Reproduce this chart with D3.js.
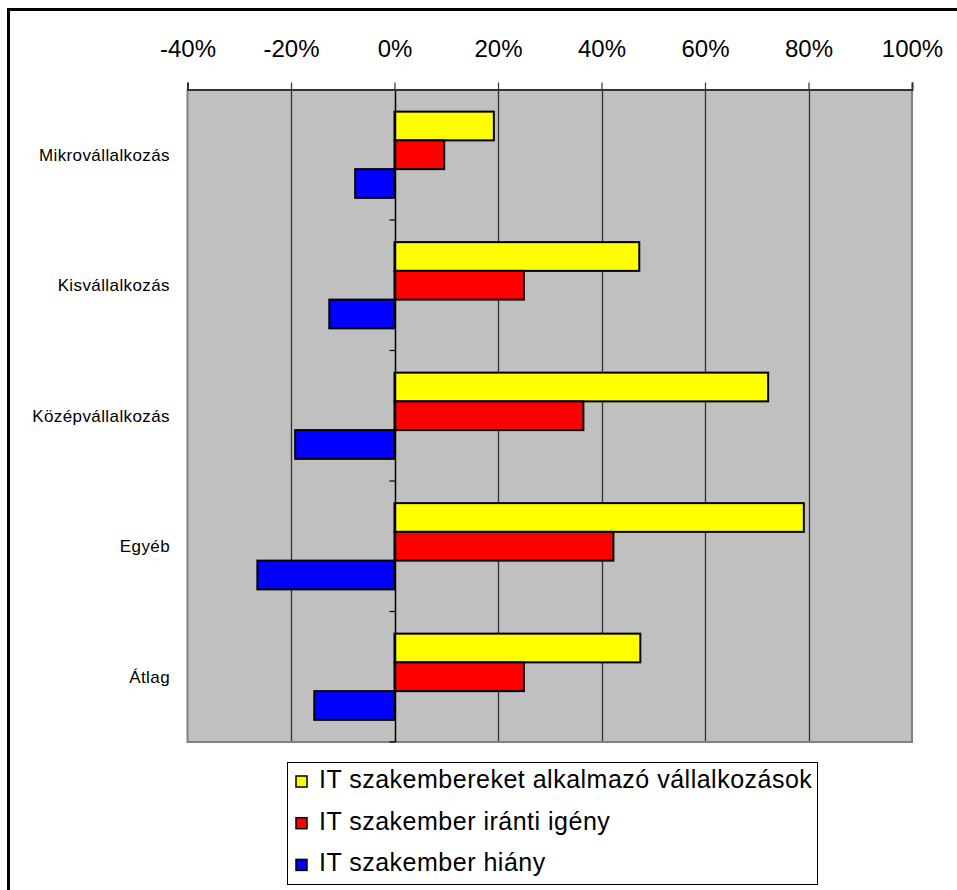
<!DOCTYPE html>
<html>
<head>
<meta charset="utf-8">
<script src="https://cdn.jsdelivr.net/npm/d3@7"></script>
<style>
  html, body { margin: 0; padding: 0; background: #fff; }
  svg { display: block; font-family: "Liberation Sans", Arial, sans-serif; }
</style>
</head>
<body>
<svg id="chart" width="957" height="890"></svg>
<script>
// Company size categories (rows)
const categories = ["Mikrovállalkozás", "Kisvállalkozás", "Középvállalkozás", "Egyéb", "Átlag"];

// Series names, as shown in the legend
const seriesNames = [
  "IT szakembereket alkalmazó vállalkozások",
  "IT szakember iránti igény",
  "IT szakember hiány"
];

// Series values in percent, one per category
const employing = [19.2, 47.3, 72.2, 79.1, 47.5];
const demand    = [9.6, 25.0, 36.5, 42.3, 25.0];
const shortage  = [-7.6, -12.6, -19.2, -26.5, -15.5];

// Tick values along the top axis (percent)
const tickValues = [-40, -20, 0, 20, 40, 60, 80, 100];

const seriesColors = ["#ffff00", "#ff0000", "#0000ff"];
const seriesValues = [employing, demand, shortage];

const svg = d3.select("#chart");

// outer frame (top and left edges)
svg.append("path")
  .attr("d", "M8.5,890 L8.5,9.5 L957,9.5")
  .attr("fill", "none")
  .attr("stroke", "#000")
  .attr("stroke-width", 3);

const plot = { left: 187.5, right: 912, top: 89.5, bottom: 742 };

const x = d3.scaleLinear().domain([-40, 100]).range([plot.left, plot.right]);
const y0 = d3.scaleBand().domain(categories).range([plot.top, plot.bottom]).padding(0);
const y1 = d3.scaleBand().domain(d3.range(seriesNames.length))
  .range([0, y0.bandwidth()]).paddingInner(0).paddingOuter(0.77);

// plot background
svg.append("rect")
  .attr("x", plot.left).attr("y", plot.top)
  .attr("width", plot.right - plot.left).attr("height", plot.bottom - plot.top)
  .attr("fill", "#c0c0c0");

// vertical gridlines
svg.append("g").selectAll("line")
  .data(tickValues.filter(v => v > -40 && v < 100 && v !== 0))
  .join("line")
  .attr("x1", d => Math.round(x(d)) + 0.5).attr("x2", d => Math.round(x(d)) + 0.5)
  .attr("y1", plot.top).attr("y2", plot.bottom)
  .attr("stroke", "#333").attr("stroke-width", 1.3);

// plot border (left, right, bottom)
svg.append("path")
  .attr("d", `M${plot.left},${plot.top} L${plot.left},${plot.bottom} L${plot.right},${plot.bottom} L${plot.right},${plot.top}`)
  .attr("fill", "none")
  .attr("stroke", "#808080")
  .attr("stroke-width", 2);

// bars
const rows = categories.map((c, i) => ({ c, vals: seriesValues.map(s => s[i]) }));
const groups = svg.append("g").selectAll("g")
  .data(rows)
  .join("g")
  .attr("transform", d => `translate(0,${y0(d.c)})`);

groups.selectAll("rect")
  .data(d => d.vals.map((v, k) => ({ v, k })))
  .join("rect")
  .attr("x", d => x(Math.min(0, d.v)))
  .attr("width", d => Math.abs(x(d.v) - x(0)))
  .attr("y", d => y1(d.k))
  .attr("height", y1.bandwidth())
  .attr("fill", d => seriesColors[d.k])
  .attr("stroke", "#000")
  .attr("stroke-width", 2);

// zero axis with category boundary ticks
const zeroX = Math.round(x(0)) + 0.5;
svg.append("line")
  .attr("x1", zeroX).attr("x2", zeroX)
  .attr("y1", plot.top).attr("y2", plot.bottom)
  .attr("stroke", "#000").attr("stroke-width", 1.5);
const bounds = categories.map(c => y0(c)).slice(1).concat([plot.bottom]);
svg.append("g").selectAll("line")
  .data(bounds)
  .join("line")
  .attr("x1", zeroX - 6).attr("x2", zeroX)
  .attr("y1", d => d).attr("y2", d => d)
  .attr("stroke", "#000").attr("stroke-width", 1.2);

// top axis
const axis = d3.axisTop(x)
  .tickValues(tickValues)
  .tickFormat(d => d + "%")
  .tickSize(7)
  .tickPadding(26);
const axisG = svg.append("g")
  .attr("transform", `translate(0,${plot.top})`)
  .call(axis);
axisG.select(".domain").attr("stroke", "#333").attr("stroke-width", 2);
axisG.selectAll(".tick line").attr("stroke", "#333").attr("stroke-width", 1.2);
axisG.selectAll(".tick text")
  .attr("fill", "#000")
  .style("font-size", "24px")
  .style("font-family", "'Liberation Sans', Arial, sans-serif");

// category labels
svg.append("g").selectAll("text")
  .data(categories)
  .join("text")
  .attr("x", 170)
  .attr("y", d => y0(d) + y0.bandwidth() / 2)
  .attr("dy", "0.35em")
  .attr("text-anchor", "end")
  .style("font-size", "17px")
  .style("letter-spacing", "0.4px")
  .attr("fill", "#000")
  .text(d => d);

// legend
const legend = svg.append("g");
legend.append("rect")
  .attr("x", 287.5).attr("y", 762.5)
  .attr("width", 530).attr("height", 122)
  .attr("fill", "#fff")
  .attr("stroke", "#000").attr("stroke-width", 1);
const legendRows = legend.selectAll("g.item")
  .data(seriesNames)
  .join("g")
  .attr("class", "item")
  .attr("transform", (d, i) => `translate(0,${788 + i * 41.7})`);
legendRows.append("rect")
  .attr("x", 296).attr("y", -12)
  .attr("width", 11).attr("height", 11)
  .attr("fill", (d, i) => seriesColors[i])
  .attr("stroke", "#000").attr("stroke-width", 1.5);
legendRows.append("text")
  .attr("x", 319).attr("y", 0)
  .style("font-size", "25px")
  .style("letter-spacing", "0.5px")
  .attr("fill", "#000")
  .text(d => d);
</script>
</body>
</html>
